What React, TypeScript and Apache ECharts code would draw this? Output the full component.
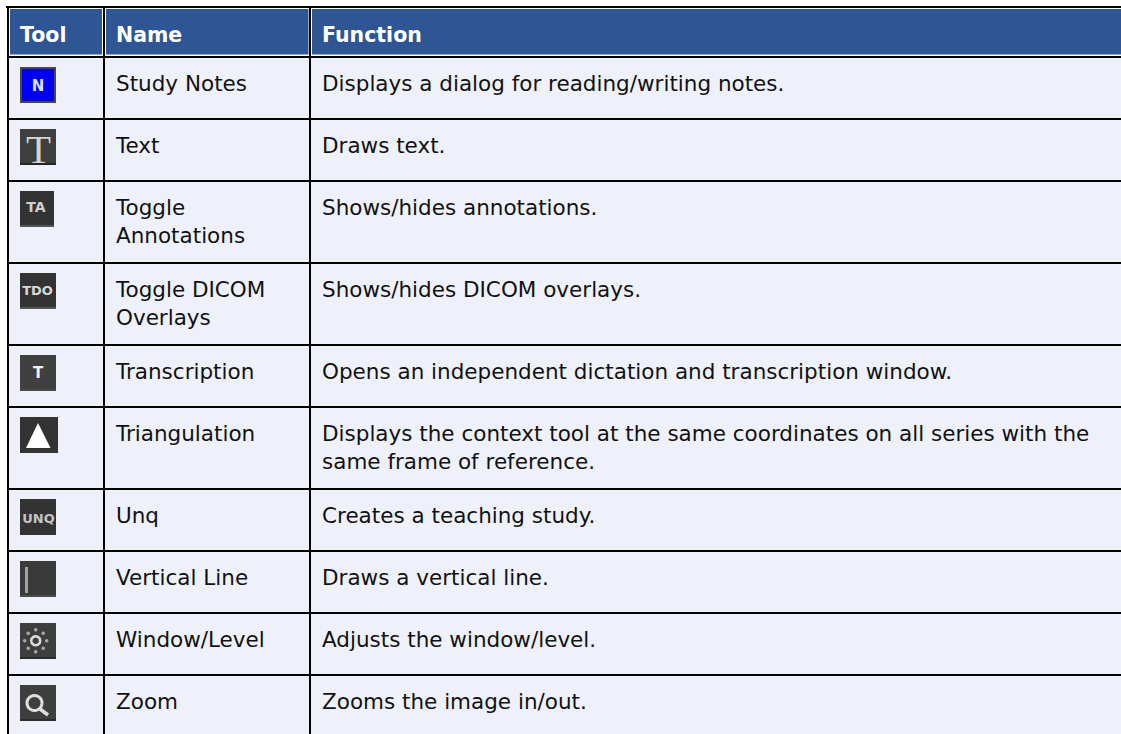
import React, { useEffect, useRef } from "react";
import * as echarts from "echarts";

const headers = ["Tool", "Name", "Function"];
const toolNames = [
  ["Study Notes"],
  ["Text"],
  ["Toggle", "Annotations"],
  ["Toggle DICOM", "Overlays"],
  ["Transcription"],
  ["Triangulation"],
  ["Unq"],
  ["Vertical Line"],
  ["Window/Level"],
  ["Zoom"],
];
const toolFunctions = [
  ["Displays a dialog for reading/writing notes."],
  ["Draws text."],
  ["Shows/hides annotations."],
  ["Shows/hides DICOM overlays."],
  ["Opens an independent dictation and transcription window."],
  ["Displays the context tool at the same coordinates on all series with the", "same frame of reference."],
  ["Creates a teaching study."],
  ["Draws a vertical line."],
  ["Adjusts the window/level."],
  ["Zooms the image in/out."],
];

const W = 1121;
const H = 734;
const FONT = "'DejaVu Sans', Verdana, sans-serif";
const rowTops = [58, 120, 182, 264, 346, 408, 490, 552, 614, 676];
const colLines = [8, 104, 310];
const iconW = [36, 36, 34, 36, 36, 38, 36, 36, 36, 36];
const iconBg = ["#4a4a42", "#3f3f3f", "#333333", "#333333", "#404040", "#333333", "#333333", "#3a3a3a", "#3e3e3e", "#3e3e3e"];
const iconEdge = ["#4a4a42", "#262626", "#555555", "#555555", "#4a4a4a", "#333333", "#333333", "#4a4a4a", "#2c2c2c", "#2c2c2c"];

function iconText(x: number, y: number, text: string, size: number, fill: string, family = FONT) {
  return {
    type: "text",
    x,
    y,
    silent: true,
    style: { text, fill, font: `bold ${size}px ${family}`, align: "center", verticalAlign: "middle" },
  };
}

function iconGlyph(i: number, x: number, y: number): any[] {
  switch (i) {
    case 0:
      return [
        { type: "rect", shape: { x: x + 2, y: y + 2, width: 32, height: 32 }, style: { fill: "#0000f5" } },
        iconText(x + 18, y + 19, "N", 15, "#dfe0f8"),
      ];
    case 1:
      return [
        { type: "text", x: x + 18.5, y: y + 20, style: { text: "T", fill: "#d4d4d4", font: "normal 41px 'Liberation Serif'", align: "center", verticalAlign: "middle" } },
      ];
    case 2:
      return [iconText(x + 16, y + 16, "TA", 14, "#cfcfcf")];
    case 3:
      return [iconText(x + 17.5, y + 17, "TDO", 13, "#d8d8d8")];
    case 4:
      return [iconText(x + 18, y + 18, "T", 15, "#f2f2f2")];
    case 5:
      return [
        { type: "polygon", shape: { points: [[x + 18, y + 6], [x + 30.5, y + 31], [x + 6, y + 31]] }, style: { fill: "#ffffff" } },
      ];
    case 6:
      return [iconText(x + 18.5, y + 19, "UNQ", 13, "#c4c4c4")];
    case 7:
      return [{ type: "rect", shape: { x: x + 5, y: y + 6, width: 3, height: 26 }, style: { fill: "#a0a0a0" } }];
    case 8: {
      const ox = x + 15.7;
      const oy = y + 17.7;
      const dots = [[0, -11], [7.5, -7.5], [11, 0], [7.5, 7.5], [0, 11], [-7.5, 7.5], [-11, 0], [-7.5, -7.5]];
      return [
        { type: "circle", shape: { cx: ox, cy: oy, r: 4.5 }, style: { fill: "none", stroke: "#dcdcdc", lineWidth: 2.5 } },
        ...dots.map(([dx, dy]) => ({ type: "circle", shape: { cx: ox + dx, cy: oy + dy, r: 1.8 }, style: { fill: "#a8a8a8" } })),
      ];
    }
    default:
      return [
        { type: "circle", shape: { cx: x + 14.5, cy: y + 18, r: 7.5 }, style: { fill: "none", stroke: "#dedede", lineWidth: 3 } },
        { type: "line", shape: { x1: x + 20, y1: y + 24, x2: x + 28, y2: y + 30 }, style: { stroke: "#dedede", lineWidth: 3.5 } },
      ];
  }
}

function buildElements(): any[] {
  const els: any[] = [];
  const cellText = (x: number, y: number, text: string, bold = false, fill = "#111111") => ({
    type: "text",
    x,
    y,
    silent: true,
    style: { text, fill, font: `${bold ? "bold 20.5px" : "21.5px"} ${FONT}`, align: "left", verticalAlign: "middle" },
  });

  els.push({ type: "rect", shape: { x: 0, y: 0, width: W, height: H }, style: { fill: "#ffffff" } });
  els.push({ type: "rect", shape: { x: 8, y: 58, width: W - 8, height: H - 58 }, style: { fill: "#eef1f9" } });

  // Header band
  const headerCells = [[9.5, 93], [105.5, 203.5], [311.5, W - 311]];
  headerCells.forEach(([x, w]) => {
    els.push({ type: "rect", shape: { x, y: 8.5, width: w, height: 46.5 }, style: { fill: "#2e5594", stroke: "#ffffff", lineWidth: 1 } });
  });
  const headerX = [20, 116, 322];
  headers.forEach((h, i) => els.push(cellText(headerX[i], 35, h, true, "#ffffff")));

  // Rules
  els.push({ type: "rect", shape: { x: 6, y: 6, width: W - 6, height: 2 }, style: { fill: "#000" } });
  els.push({ type: "rect", shape: { x: 7, y: 56, width: W - 7, height: 2 }, style: { fill: "#000" } });
  rowTops.slice(1).forEach((t) => {
    els.push({ type: "rect", shape: { x: 7, y: t - 2, width: W - 7, height: 2 }, style: { fill: "#000" } });
  });
  colLines.forEach((x) => {
    els.push({ type: "rect", shape: { x: x - 1, y: 6, width: 2, height: H - 6 }, style: { fill: "#000" } });
  });

  // Rows
  toolNames.forEach((lines, r) => {
    const top = rowTops[r];
    lines.forEach((t, k) => els.push(cellText(116, top + 25 + k * 28, t)));
    toolFunctions[r].forEach((t, k) => els.push(cellText(322, top + 25 + k * 28, t)));
    const ix = 20;
    const iy = top + 9;
    els.push({ type: "rect", shape: { x: ix, y: iy, width: iconW[r], height: 36 }, style: { fill: iconBg[r] } });
    els.push({ type: "rect", shape: { x: ix, y: iy + 34, width: iconW[r], height: 2 }, style: { fill: iconEdge[r] } });
    els.push(...iconGlyph(r, ix, iy));
  });
  return els;
}

export default function App() {
  const ref = useRef<HTMLDivElement>(null);
  useEffect(() => {
    document.body.style.margin = "0";
    const chart = echarts.init(ref.current!, undefined, { renderer: "svg" });
    chart.setOption({
      animation: false,
      backgroundColor: "#ffffff",
      graphic: { elements: buildElements() },
    });
    return () => chart.dispose();
  }, []);
  return <div ref={ref} style={{ width: W, height: H }} />;
}
